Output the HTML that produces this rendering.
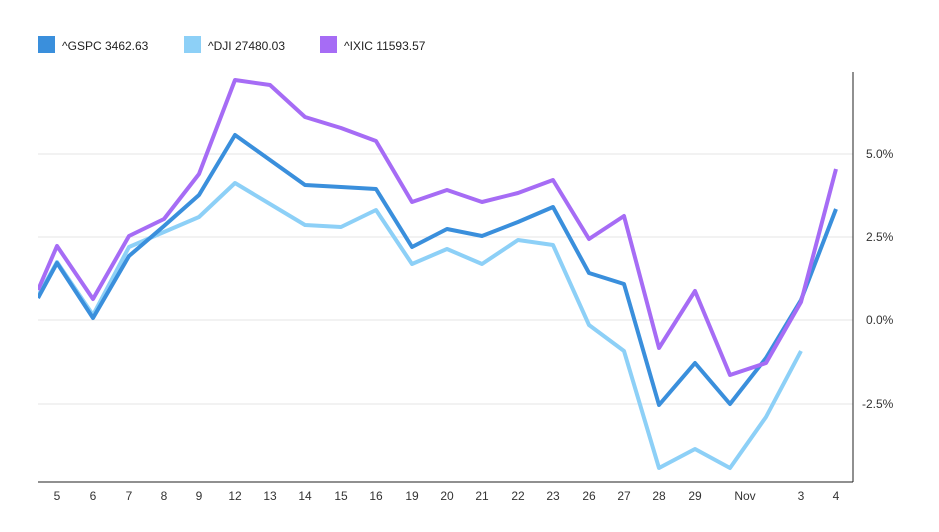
<!DOCTYPE html>
<html><head><meta charset="utf-8"><style>
body{margin:0;background:#fff;width:939px;height:527px;overflow:hidden;font-family:"Liberation Sans",sans-serif}
</style></head><body>
<svg width="939" height="527" xmlns="http://www.w3.org/2000/svg" font-family="Liberation Sans, sans-serif">
<defs><clipPath id="c"><rect x="38" y="60" width="815" height="422"/></clipPath></defs>
<rect x="38" y="36" width="17" height="17" fill="#3a8fdc"/>
<text x="62" y="50" font-size="12" fill="#222">^GSPC 3462.63</text>
<rect x="184" y="36" width="17" height="17" fill="#8dd0f7"/>
<text x="208" y="50" font-size="12" fill="#222">^DJI 27480.03</text>
<rect x="320" y="36" width="17" height="17" fill="#a66cf5"/>
<text x="344" y="50" font-size="12" fill="#222">^IXIC 11593.57</text>
<g stroke="#e6e6e6" stroke-width="1">
<line x1="38" y1="154" x2="853" y2="154"/><line x1="38" y1="237" x2="853" y2="237"/>
<line x1="38" y1="320" x2="853" y2="320"/><line x1="38" y1="404" x2="853" y2="404"/>
</g>
<line x1="853" y1="72" x2="853" y2="482" stroke="#222"/>
<line x1="38" y1="482" x2="853" y2="482" stroke="#222"/>
<g font-size="12" fill="#333">
<text x="866" y="158">5.0%</text><text x="866" y="241">2.5%</text>
<text x="866" y="324">0.0%</text><text x="862" y="408">-2.5%</text>
</g>
<g font-size="12" fill="#333" text-anchor="middle">
<text x="57" y="500">5</text><text x="93" y="500">6</text><text x="129" y="500">7</text><text x="164" y="500">8</text><text x="199" y="500">9</text><text x="235" y="500">12</text><text x="270" y="500">13</text><text x="305" y="500">14</text><text x="341" y="500">15</text><text x="376" y="500">16</text><text x="412" y="500">19</text><text x="447" y="500">20</text><text x="482" y="500">21</text><text x="518" y="500">22</text><text x="553" y="500">23</text><text x="589" y="500">26</text><text x="624" y="500">27</text><text x="659" y="500">28</text><text x="695" y="500">29</text><text x="745" y="500">Nov</text><text x="801" y="500">3</text><text x="836" y="500">4</text>
</g>
<g clip-path="url(#c)" fill="none" stroke-width="4" stroke-linejoin="round">
<polyline stroke="#8dd0f7" points="38,296 57,262 93,315 129,247 164,232 199,217 235,183 270,204 305,225 341,227 376,210 412,264 447,249 482,264 518,240 553,245 589,325 624,351 659,468 695,449 730,468 766,417 801,351"/>
<polyline stroke="#3a8fdc" points="38,298 57,263 93,318 129,256 164,226 199,195 235,135 270,160 305,185 341,187 376,189 412,247 447,229 482,236 518,222 553,207 589,273 624,284 659,405 695,363 730,404 766,358 801,300 836,209"/>
<polyline stroke="#a66cf5" points="38,290 57,246 93,299 129,236 164,219 199,174 235,80 270,85 305,117 341,128 376,141 412,202 447,190 482,202 518,193 553,180 589,239 624,216 659,348 695,291 730,375 766,363 801,302 836,169"/>
</g>
</svg>
</body></html>
